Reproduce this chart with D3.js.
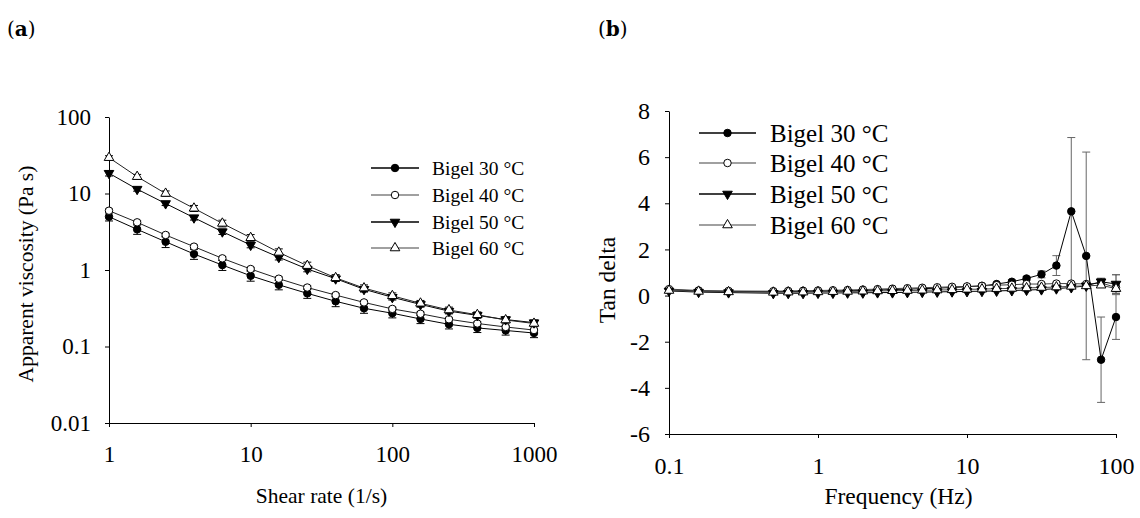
<!DOCTYPE html>
<html>
<head>
<meta charset="utf-8">
<script src="https://cdnjs.cloudflare.com/ajax/libs/d3/7.8.5/d3.min.js"></script>
<style>
  body { margin: 0; background: #fff; }
  text { font-family: "Liberation Serif", "Times New Roman", serif; fill: #000; }
</style>
</head>
<body>
<div id="vis"></div>
<script>
// panel (a) - apparent viscosity vs shear rate
var shearRate = [1, 1.58, 2.51, 3.98, 6.31, 10, 15.8, 25.1, 39.8, 63.1, 100, 158, 251, 398, 631, 1000];
var visc30 = [4.97, 3.4, 2.34, 1.62, 1.16, 0.84, 0.64, 0.495, 0.39, 0.316, 0.272, 0.229, 0.195, 0.175, 0.162, 0.15];
var visc40 = [5.96, 4.2, 2.87, 2.02, 1.42, 1.03, 0.77, 0.59, 0.47, 0.377, 0.31, 0.268, 0.227, 0.2, 0.18, 0.164];
var visc50 = [18.4, 11.4, 7.4, 4.83, 3.17, 2.12, 1.47, 1.03, 0.77, 0.56, 0.44, 0.355, 0.29, 0.255, 0.225, 0.205];
var visc60 = [29.4, 16.6, 10.0, 6.4, 4.07, 2.64, 1.7, 1.14, 0.79, 0.58, 0.46, 0.367, 0.3, 0.26, 0.222, 0.2];
// relative error (fraction of value)
var viscErr30 = [0.12, 0.14, 0.16, 0.15, 0.15, 0.15, 0.14, 0.14, 0.15, 0.14, 0.13, 0.13, 0.13, 0.13, 0.13, 0.13];
var viscErr40 = [0.05, 0.05, 0.05, 0.05, 0.05, 0.05, 0.05, 0.05, 0.05, 0.05, 0.05, 0.05, 0.05, 0.05, 0.05, 0.05];
var viscErr50 = [0.08, 0.06, 0.06, 0.07, 0.08, 0.08, 0.08, 0.08, 0.08, 0.08, 0.08, 0.08, 0.08, 0.08, 0.08, 0.08];
var viscErr60 = [0.06, 0.07, 0.08, 0.09, 0.1, 0.1, 0.11, 0.11, 0.1, 0.1, 0.09, 0.09, 0.09, 0.09, 0.09, 0.09];
var viscTicksY = [0.01, 0.1, 1, 10, 100];
var viscTicksX = [1, 10, 100, 1000];

// panel (b) - tan delta vs frequency
var freq = [0.1, 0.158, 0.251, 0.501, 0.631, 0.794, 1, 1.26, 1.58, 2, 2.51, 3.16, 3.98, 5.01, 6.31, 7.94, 10, 12.6, 15.8, 20, 25.1, 31.6, 39.8, 50.1, 63.1, 79.4, 100];
var tan30 = [0.25, 0.2, 0.18, 0.17, 0.18, 0.18, 0.19, 0.2, 0.21, 0.22, 0.24, 0.26, 0.28, 0.3, 0.32, 0.35, 0.38, 0.42, 0.5, 0.6, 0.74, 0.92, 1.3, 3.65, 1.72, -2.78, -0.93];
var tan40 = [0.28, 0.22, 0.2, 0.19, 0.2, 0.21, 0.22, 0.23, 0.24, 0.26, 0.28, 0.3, 0.32, 0.34, 0.36, 0.38, 0.4, 0.42, 0.45, 0.47, 0.5, 0.5, 0.52, 0.52, 0.5, 0.55, 0.35];
var tan50 = [0.2, 0.15, 0.13, 0.1, 0.1, 0.1, 0.11, 0.11, 0.12, 0.12, 0.13, 0.13, 0.14, 0.15, 0.16, 0.17, 0.18, 0.19, 0.2, 0.22, 0.24, 0.26, 0.3, 0.35, 0.42, 0.6, 0.5];
var tan60 = [0.22, 0.18, 0.16, 0.14, 0.15, 0.15, 0.16, 0.17, 0.18, 0.19, 0.2, 0.21, 0.22, 0.23, 0.24, 0.25, 0.27, 0.28, 0.3, 0.31, 0.33, 0.35, 0.37, 0.4, 0.42, 0.45, 0.3];
var tanErr30 = [0.03, 0.02, 0.02, 0.02, 0.02, 0.02, 0.02, 0.02, 0.02, 0.02, 0.02, 0.02, 0.02, 0.03, 0.03, 0.03, 0.04, 0.05, 0.05, 0.08, 0.08, 0.15, 0.43, 3.2, 4.5, 1.85, 0.97];
var tanErr40 = [0.02, 0.02, 0.02, 0.02, 0.02, 0.02, 0.02, 0.02, 0.02, 0.02, 0.02, 0.02, 0.02, 0.02, 0.02, 0.02, 0.03, 0.03, 0.03, 0.03, 0.04, 0.04, 0.05, 0.05, 0.05, 0.1, 0.12];
var tanErr50 = [0.02, 0.02, 0.02, 0.02, 0.02, 0.02, 0.02, 0.02, 0.02, 0.02, 0.02, 0.02, 0.02, 0.02, 0.02, 0.02, 0.03, 0.03, 0.03, 0.03, 0.04, 0.04, 0.05, 0.05, 0.06, 0.15, 0.4];
var tanErr60 = [0.02, 0.02, 0.02, 0.02, 0.02, 0.02, 0.02, 0.02, 0.02, 0.02, 0.02, 0.02, 0.02, 0.02, 0.02, 0.02, 0.03, 0.03, 0.03, 0.03, 0.04, 0.04, 0.05, 0.05, 0.05, 0.1, 0.12];
var tanTicksY = [-6, -4, -2, 0, 2, 4, 6, 8];
var tanTicksX = [0.1, 1, 10, 100];

var seriesNames = ['Bigel 30 \u00b0C', 'Bigel 40 \u00b0C', 'Bigel 50 \u00b0C', 'Bigel 60 \u00b0C'];

var width = 1140,
    height = 518;

var serif = '"Liberation Serif", "Times New Roman", serif';

var svg = d3.select('#vis')
  .append('svg')
    .attr('width', width)
    .attr('height', height);

// marker styles: filled circle, open circle, filled down triangle, open triangle
var markers = [
  { type: d3.symbolCircle, size: 44, fill: '#000', rot: 0 },
  { type: d3.symbolCircle, size: 44, fill: '#fff', rot: 0 },
  { type: d3.symbolTriangle, size: 40, fill: '#000', rot: 180 },
  { type: d3.symbolTriangle, size: 40, fill: '#fff', rot: 0 }
];
var legendLineColor = ['#000', '#808080', '#000', '#808080'];

function drawMarker(g, m, x, y) {
  g.append('path')
    .attr('d', d3.symbol().type(m.type).size(m.size)())
    .attr('transform', 'translate(' + x + ',' + y + ') rotate(' + m.rot + ')')
    .attr('fill', m.fill)
    .attr('stroke', '#000')
    .attr('stroke-width', 1);
}

function drawPanel(cfg) {
  var g = svg.append('g');
  var x = d3.scaleLog().domain(cfg.xDomain).range(cfg.xRange);
  var y = cfg.yLog ? d3.scaleLog() : d3.scaleLinear();
  y.domain(cfg.yDomain).range(cfg.yRange);

  // axes
  g.append('g')
    .attr('transform', 'translate(0,' + cfg.yRange[0] + ')')
    .call(d3.axisBottom(x).tickValues(cfg.xTicks).tickSize(4).tickSizeOuter(0).tickFormat(function(d) { return d; }))
    .call(function(a) {
      a.select('.domain').attr('stroke', '#000');
      a.selectAll('.tick line').attr('stroke', '#000');
      a.selectAll('.tick text').attr('y', cfg.xLabelDy).attr('dy', 0)
        .style('font-size', cfg.tickFont + 'px')
        .style('font-family', serif);
    });

  g.append('g')
    .attr('transform', 'translate(' + cfg.xRange[0] + ',0)')
    .call(d3.axisLeft(y).tickValues(cfg.yTicks).tickSize(4).tickSizeOuter(0).tickFormat(function(d) { return d; }))
    .call(function(a) {
      a.select('.domain').attr('stroke', '#000');
      a.selectAll('.tick line').attr('stroke', '#000');
      a.selectAll('.tick text').attr('x', -cfg.yLabelDx)
        .style('font-size', cfg.tickFont + 'px')
        .style('font-family', serif);
    });

  // error bars (drawn first)
  cfg.series.forEach(function(s, si) {
    s.values.forEach(function(v, i) {
      var lo, hi;
      if (cfg.yLog) { lo = v * (1 - s.err[i]); hi = v * (1 + s.err[i]); }
      else { lo = v - s.err[i]; hi = v + s.err[i]; }
      var px = x(cfg.xs[i]);
      var col = s.errColor;
      g.append('line').attr('x1', px).attr('x2', px).attr('y1', y(lo)).attr('y2', y(hi))
        .attr('stroke', col).attr('stroke-width', 1);
      g.append('line').attr('x1', px - 4).attr('x2', px + 4).attr('y1', y(lo)).attr('y2', y(lo))
        .attr('stroke', col).attr('stroke-width', 1);
      g.append('line').attr('x1', px - 4).attr('x2', px + 4).attr('y1', y(hi)).attr('y2', y(hi))
        .attr('stroke', col).attr('stroke-width', 1);
    });
  });

  // series lines and markers
  var line = d3.line()
    .x(function(d) { return x(d[0]); })
    .y(function(d) { return y(d[1]); });

  cfg.series.forEach(function(s, si) {
    var pts = cfg.xs.map(function(xv, i) { return [xv, s.values[i]]; });
    g.append('path')
      .datum(pts)
      .attr('d', line)
      .attr('fill', 'none')
      .attr('stroke', s.lineColor)
      .attr('stroke-width', 1);
  });
  cfg.series.forEach(function(s, si) {
    s.values.forEach(function(v, i) {
      drawMarker(g, markers[si], x(cfg.xs[i]), y(v));
    });
  });

  // legend
  seriesNames.forEach(function(name, i) {
    var ly = cfg.legend.y[i];
    g.append('line')
      .attr('x1', cfg.legend.x1).attr('x2', cfg.legend.x2)
      .attr('y1', ly).attr('y2', ly)
      .attr('stroke', legendLineColor[i]).attr('stroke-width', 1.3);
    drawMarker(g, markers[i], (cfg.legend.x1 + cfg.legend.x2) / 2, ly);
    g.append('text')
      .attr('x', cfg.legend.tx).attr('y', ly)
      .attr('dy', '0.35em')
      .style('font-size', cfg.legend.font + 'px')
      .style('font-family', serif)
      .text(name);
  });

  // axis titles
  g.append('text')
    .attr('x', (cfg.xRange[0] + cfg.xRange[1]) / 2 + cfg.xTitleShift)
    .attr('y', cfg.xTitleY)
    .attr('text-anchor', 'middle')
    .style('font-size', cfg.titleFont + 'px')
    .style('font-family', serif)
    .text(cfg.xTitle);

  g.append('text')
    .attr('transform', 'translate(' + cfg.yTitleX + ',' + cfg.yTitleY + ') rotate(-90)')
    .attr('text-anchor', 'middle')
    .style('font-size', cfg.titleFont + 'px')
    .style('font-family', serif)
    .text(cfg.yTitle);

  // panel letter
  var lt = g.append('text')
    .attr('x', cfg.letterX).attr('y', 36)
    .style('font-size', '20px')
    .style('font-family', '"DejaVu Serif", serif');
  lt.append('tspan').text('(');
  lt.append('tspan').attr('font-weight', 'bold').text(cfg.letter);
  lt.append('tspan').text(')');
}

drawPanel({
  letter: 'a', letterX: 7,
  xs: shearRate,
  xDomain: [1, 1000], xRange: [109, 534],
  yLog: true, yDomain: [0.01, 100], yRange: [423, 117],
  xTicks: viscTicksX, yTicks: viscTicksY,
  tickFont: 23, xLabelDy: 39, yLabelDx: 18,
  titleFont: 21.5,
  xTitle: 'Shear rate (1/s)', xTitleY: 503, xTitleShift: 0,
  yTitle: 'Apparent viscosity (Pa s)', yTitleX: 33, yTitleY: 274,
  series: [
    { values: visc30, err: viscErr30, lineColor: '#000', errColor: '#000' },
    { values: visc40, err: viscErr40, lineColor: '#222', errColor: '#000' },
    { values: visc50, err: viscErr50, lineColor: '#000', errColor: '#000' },
    { values: visc60, err: viscErr60, lineColor: '#222', errColor: '#000' }
  ],
  legend: { x1: 371, x2: 419, tx: 432, font: 19.5, y: [168, 195, 222, 248] }
});

drawPanel({
  letter: 'b', letterX: 598,
  xs: freq,
  xDomain: [0.1, 100], xRange: [669, 1116],
  yLog: false, yDomain: [-6, 8], yRange: [434, 111],
  xTicks: tanTicksX, yTicks: tanTicksY,
  tickFont: 24, xLabelDy: 40, yLabelDx: 19,
  titleFont: 23.5,
  xTitle: 'Frequency (Hz)', xTitleY: 504, xTitleShift: 6,
  yTitle: 'Tan delta', yTitleX: 615, yTitleY: 280,
  series: [
    { values: tan30, err: tanErr30, lineColor: '#000', errColor: '#666' },
    { values: tan40, err: tanErr40, lineColor: '#444', errColor: '#666' },
    { values: tan50, err: tanErr50, lineColor: '#000', errColor: '#333' },
    { values: tan60, err: tanErr60, lineColor: '#444', errColor: '#666' }
  ],
  legend: { x1: 699, x2: 756, tx: 770, font: 25, y: [133, 163, 194, 225] }
});
</script>
</body>
</html>
